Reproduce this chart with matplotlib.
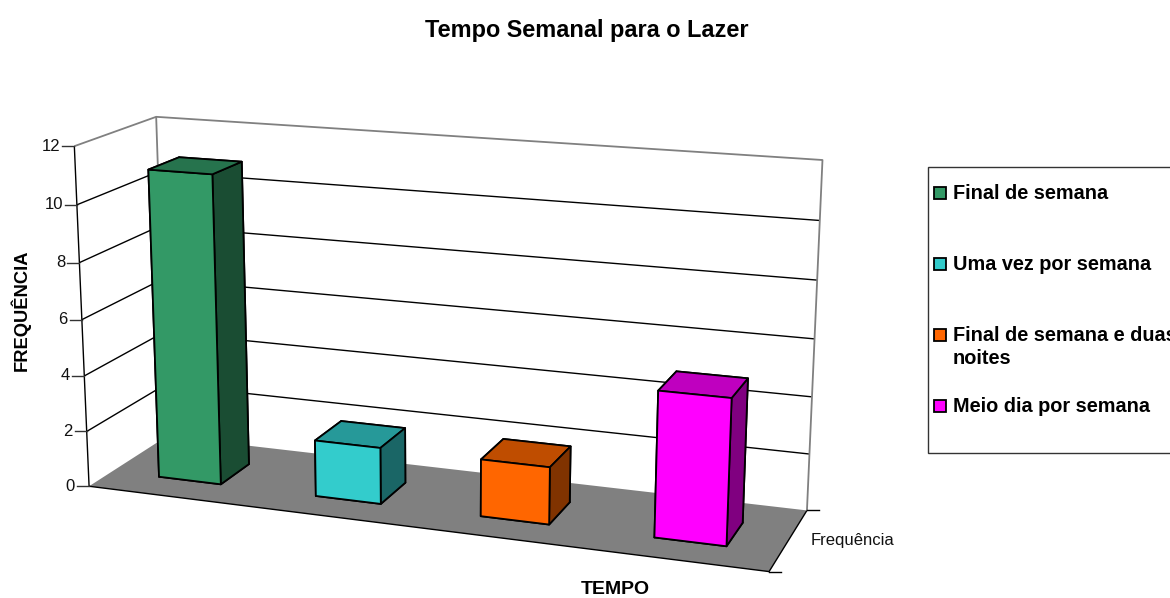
import numpy as np
import matplotlib
matplotlib.use("Agg")
import matplotlib.pyplot as plt
from matplotlib.patches import Rectangle
from mpl_toolkits.mplot3d.art3d import Line3DCollection, Poly3DCollection

plt.rcParams["font.family"] = ["Liberation Sans", "DejaVu Sans"]

# Chart data
series = ["Final de semana", "Uma vez por semana", "Final de semana e duas\nnoites", "Meio dia por semana"]
values = [11, 2, 2, 5]
colors = ["#339966", "#33CCCC", "#FF6600", "#FF00FF"]
z_ticks = [0, 2, 4, 6, 8, 10, 12]

W, H = 1170, 598
z_max = z_ticks[-1]
n = len(values)

# Excel's camera: where the corners of the plot box land on the image (x, y, z) -> (px, py)
corners = [
    ((0, 0, 0), (89, 486.5)),
    ((n, 0, 0), (769, 571.5)),
    ((n, 1, 0), (807, 510.5)),
    ((0, 1, 0), (167, 436)),
    ((0, 0, z_max), (74.5, 146)),
    ((0, 1, z_max), (156, 117)),
    ((n, 1, z_max), (822.5, 160)),
]
rows = []
for (x, y, z), (px, py) in corners:
    rows.append([x, y, z, 1, 0, 0, 0, 0, -px * x, -px * y, -px * z, -px])
    rows.append([0, 0, 0, 0, x, y, z, 1, -py * x, -py * y, -py * z, -py])
P = np.linalg.svd(np.array(rows, dtype=float))[2][-1].reshape(3, 4)
P = P / P[2, 3]


def to_px(x, y, z):
    u = P @ np.array([x, y, z, 1.0])
    return u[0] / u[2], u[1] / u[2]


fig = plt.figure(figsize=(W / 100, H / 100), dpi=100)
ax = fig.add_axes([0, 0, 1, 1], projection="3d")
ax.set_axis_off()
ax.patch.set_alpha(0)
ax.computed_zorder = False
ax.apply_aspect = lambda position=None: None


def fixed_proj():
    # image pixels -> display -> the axes' 2D coordinates
    to_display = np.array([[1, 0, 0], [0, -1, H], [0, 0, 1]], dtype=float)
    Q = ax.transData.inverted().get_matrix() @ to_display @ P
    # third row is only the depth used to sort faces, far = larger
    depth = np.array([-0.3, 1.0, -0.05, 0.0])
    return np.array([Q[0], Q[1], depth, Q[2]])


ax.get_proj = fixed_proj

# Floor
floor = [[(0, 0, 0), (n, 0, 0), (n, 1, 0), (0, 1, 0)]]
ax.add_collection3d(Poly3DCollection(floor, facecolor="#808080", edgecolor="none", zorder=1), autolim=False)

# Walls
grid = [[(0, 0, z), (0, 1, z), (n, 1, z)] for z in z_ticks[1:-1]]
grid.append([(0, 0, 0), (0, 0, z_max)])
grid.append([(0, 0, 0), (n, 0, 0), (n, 1, 0)])
ax.add_collection3d(Line3DCollection(grid, colors="black", linewidths=1.0, zorder=2), autolim=False)
frame = [
    [(0, 0, z_max), (0, 1, z_max), (n, 1, z_max), (n, 1, 0)],
    [(0, 1, 0), (0, 1, z_max)],
]
ax.add_collection3d(Line3DCollection(frame, colors="#808080", linewidths=1.3, zorder=2), autolim=False)

# Bars
bar_x = np.arange(n) + 0.305
bar_y = np.full(n, 0.29)
face_colors = []
for c in colors:
    base = np.array(matplotlib.colors.to_rgb(c))
    # faces: bottom, top, front, back, left, right
    face_colors += [base * 0.5, base * 0.75, base, base, base * 0.5, base * 0.5]
ax.bar3d(bar_x, bar_y, np.zeros(n), 0.40, 0.39, values, color=face_colors,
         edgecolor="black", linewidth=1.3, shade=False, zorder=3)

# Overlay in image pixels for ticks, labels and legend
ov = fig.add_axes([0, 0, 1, 1])
ov.set_xlim(0, W)
ov.set_ylim(H, 0)
ov.axis("off")
ov.patch.set_alpha(0)

for z in z_ticks:
    px, py = to_px(0, 0, z)
    ov.plot([px - 12, px], [py, py], color="#333333", lw=1.0)
    ov.text(px - 14, py, str(z), ha="right", va="center", fontsize=12, color="#111111")
for y in [0, 1]:
    px, py = to_px(n, y, 0)
    ov.plot([px, px + 12], [py, py], color="black", lw=1.0)

ov.text(852, 540, "Frequência", ha="center", va="center", fontsize=12, color="#111111")
ov.text(587, 31, "Tempo Semanal para o Lazer", ha="center", va="center", fontsize=16.9, fontweight="bold")
ov.text(615, 589.5, "TEMPO", ha="center", va="center", fontsize=14, fontweight="bold")
ov.text(21, 310, "FREQUÊNCIA", ha="center", va="center", rotation=90, fontsize=13.2, fontweight="bold")

# Legend, cut off by the right edge like the original
ov.add_patch(Rectangle((928, 167), 260, 286, facecolor="white", edgecolor="#333333", lw=1.0))
for i, (name, c) in enumerate(zip(series, colors)):
    yc = 192.5 + 71 * i
    ov.add_patch(Rectangle((933.5, yc - 6), 12.5, 12.5, facecolor=c, edgecolor="black", lw=1.3))
    ov.text(953, yc + 1, name.split("\n")[0], ha="left", va="center", fontsize=14.3,
            fontweight="bold", clip_on=True)
    if "\n" in name:
        ov.text(953, yc + 24.5, name.split("\n")[1], ha="left", va="center", fontsize=14.3,
                fontweight="bold", clip_on=True)

fig.savefig("out.png", dpi=100)
plt.close(fig)
